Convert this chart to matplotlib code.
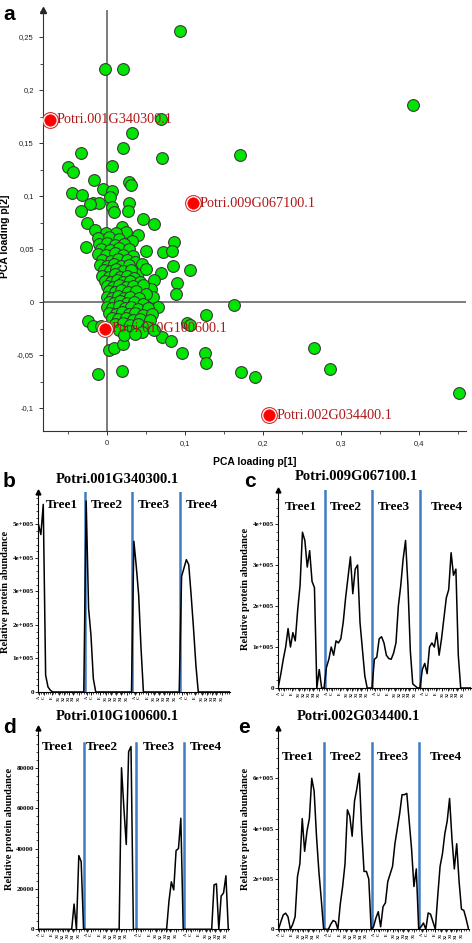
import matplotlib
matplotlib.use("Agg")
import matplotlib.pyplot as plt
from matplotlib.ticker import FixedLocator, FuncFormatter, MultipleLocator, AutoMinorLocator
import numpy as np

# ---------------- data: PCA loadings (panel a) ----------------
green_x = [0.094, -0.003, 0.020, 0.069, 0.032, 0.021, -0.033, 0.071, 0.171, 0.392,
           -0.050, -0.043, 0.006, -0.017, 0.028, 0.031, -0.005, 0.007, -0.045, -0.032, 0.004,
           -0.018, -0.010, -0.022, 0.028, 0.006, 0.009, 0.027, -0.033, 0.046, 0.060, -0.026,
           0.019, 0.024, 0.040, -0.015, -0.001, 0.012, 0.032, 0.086, -0.027, 0.050, 0.072,
           0.083, 0.085, 0.106, 0.069, 0.040, 0.060, 0.090, 0.088, 0.056, 0.059, 0.065,
           0.127, -0.024, -0.018, -0.008, 0.163, 0.103, 0.106, 0.071, 0.082, 0.096, 0.126,
           0.127, 0.265, 0.286, 0.172, 0.190, 0.451, 0.002, 0.009, 0.021, -0.012, 0.019,
           -0.012, 0.002, 0.015, -0.010, 0.000, 0.010, 0.022, -0.008, 0.004, 0.016, 0.028,
           -0.011, -0.001, 0.010, 0.020, 0.033, -0.006, 0.005, 0.014, 0.025, 0.036,
           -0.009, 0.000, 0.009, 0.018, 0.028, 0.045, -0.004, 0.004, 0.012, 0.021, 0.031, 0.050,
           -0.006, 0.002, 0.010, 0.017, 0.026, 0.035, -0.003, 0.005, 0.013, 0.020, 0.029, 0.042,
           0.000, 0.008, 0.016, 0.024, 0.033, 0.046, 0.002, 0.010, 0.018, 0.027, 0.037, 0.050,
           0.000, 0.006, 0.014, 0.022, 0.030, 0.041, 0.002, 0.009, 0.017, 0.025, 0.034, 0.046,
           0.000, 0.007, 0.015, 0.023, 0.031, 0.040, 0.052, 0.003, 0.011, 0.019, 0.028, 0.036,
           0.046, 0.058, 0.006, 0.014, 0.024, 0.033, 0.042, 0.055, 0.010, 0.020, 0.030, 0.040,
           0.051, 0.015, 0.028, 0.045, 0.060, 0.022, 0.036]
green_y = [0.256, 0.220, 0.220, 0.173, 0.159, 0.145, 0.141, 0.136, 0.139, 0.186,
           0.127, 0.123, 0.128, 0.115, 0.113, 0.110, 0.107, 0.105, 0.103, 0.101, 0.099,
           0.093, 0.093, 0.092, 0.093, 0.090, 0.085, 0.086, 0.086, 0.078, 0.074, 0.075,
           0.071, 0.066, 0.063, 0.068, 0.065, 0.065, 0.058, 0.057, 0.052, 0.048, 0.047,
           0.048, 0.034, 0.030, 0.027, 0.027, 0.021, 0.018, 0.008, 0.012, 0.005, -0.005,
           -0.012, -0.018, -0.023, -0.023, -0.003, -0.020, -0.022, -0.033, -0.037, -0.048, -0.048,
           -0.058, -0.043, -0.063, -0.066, -0.071, -0.086, -0.045, -0.043, -0.040, -0.068, -0.065,
           0.060, 0.061, 0.059, 0.055, 0.056, 0.054, 0.055, 0.050, 0.049, 0.051, 0.050,
           0.045, 0.044, 0.046, 0.044, 0.043, 0.040, 0.039, 0.041, 0.040, 0.038,
           0.035, 0.034, 0.036, 0.034, 0.035, 0.036, 0.030, 0.029, 0.031, 0.029, 0.030, 0.031,
           0.025, 0.024, 0.026, 0.024, 0.025, 0.023, 0.020, 0.019, 0.021, 0.019, 0.020, 0.019,
           0.015, 0.014, 0.016, 0.014, 0.015, 0.016, 0.010, 0.009, 0.011, 0.009, 0.010, 0.008,
           0.005, 0.004, 0.006, 0.004, 0.005, 0.004, 0.000, -0.001, 0.001, -0.001, 0.000, -0.002,
           -0.005, -0.006, -0.004, -0.006, -0.005, -0.007, -0.006, -0.010, -0.011, -0.009, -0.011, -0.010,
           -0.012, -0.011, -0.015, -0.016, -0.015, -0.017, -0.016, -0.017, -0.021, -0.020, -0.022, -0.021,
           -0.024, -0.026, -0.027, -0.028, -0.026, -0.031, -0.030]

red_names = ["Potri.001G340300.1", "Potri.009G067100.1", "Potri.010G100600.1", "Potri.002G034400.1"]
red_x = [-0.073, 0.110, -0.003, 0.208]
red_y = [0.172, 0.093, -0.025, -0.107]

# ---------------- data: protein abundance profiles (panels b-e) ----------------
tree_names = ["Tree1", "Tree2", "Tree3", "Tree4"]
sample_labels = ["A", "C", "E", "X1", "X2", "X3", "X4", "X5"]

b_vals = [5.0e5, 4.7e5, 5.6e5, 0.5e5, 0.15e5, 0.05e5] + [0] * 14 + \
         [5.7e5, 2.5e5, 1.7e5, 0.4e5] + [0] * 16 + \
         [4.5e5, 3.75e5, 2.9e5, 1.3e5] + [0] * 16 + \
         [3.45e5, 3.7e5, 3.95e5, 3.8e5, 2.9e5, 1.9e5, 0.8e5] + [0] * 14
c_vals = [0.05e5, 0.35e5, 0.7e5, 1.0e5, 1.45e5, 1.0e5, 1.35e5, 1.15e5, 1.9e5, 2.5e5,
          3.8e5, 3.6e5, 2.95e5, 3.35e5, 2.6e5, 2.45e5, 0.0, 0.45e5, 0.0, 0.0,
          0.5e5, 0.7e5, 1.0e5, 0.8e5, 1.15e5, 1.1e5, 1.2e5, 1.6e5, 2.2e5, 2.7e5,
          3.2e5, 2.3e5, 2.9e5, 3.0e5, 1.6e5, 0.95e5, 0.3e5, 0.0, 0.0, 0.0,
          0.7e5, 0.75e5, 1.2e5, 1.25e5, 1.1e5, 0.8e5, 0.72e5, 0.7e5, 0.85e5, 1.1e5,
          2.0e5, 2.5e5, 3.15e5, 3.6e5, 2.5e5, 0.9e5, 0.1e5, 0.05e5, 0.0, 0.0,
          0.45e5, 0.6e5, 0.35e5, 1.0e5, 1.1e5, 1.0e5, 1.35e5, 0.8e5, 1.2e5, 1.7e5,
          2.2e5, 2.4e5, 3.3e5, 2.75e5, 2.9e5, 0.8e5, 0.0, 0.0, 0.0, 0.0, 0.0]
d_vals = [0] * 15 + [12500, 0, 36500, 33500, 0] + \
         [0] * 15 + [80000, 60000, 42000, 88000, 90500, 0, 0] + \
         [0] * 13 + [14000, 23500, 19500, 39000, 40000, 55000, 0] + \
         [0] * 12 + [22000, 22500, 0, 16500, 18000, 26500, 0]
e_vals = [0.0, 0.3e5, 0.57e5, 0.64e5, 0.5e5, 0.0, 0.2e5, 0.5e5, 2.1e5, 2.6e5,
          4.4e5, 3.1e5, 3.9e5, 4.4e5, 6.0e5, 5.5e5, 3.7e5, 2.3e5, 1.2e5, 0.0,
          0.0, 0.0, 0.2e5, 0.35e5, 0.3e5, 0.0, 1.0e5, 1.7e5, 2.6e5, 4.75e5,
          4.5e5, 3.7e5, 5.1e5, 5.6e5, 6.2e5, 3.95e5, 2.3e5, 2.3e5, 2.0e5, 0.0,
          0.1e5, 0.45e5, 0.7e5, 0.1e5, 0.9e5, 1.05e5, 1.9e5, 2.2e5, 2.5e5, 3.4e5,
          4.0e5, 4.6e5, 5.35e5, 5.35e5, 5.4e5, 4.3e5, 3.2e5, 1.7e5, 2.4e5, 0.0,
          0.1e5, 0.25e5, 0.0, 0.65e5, 0.6e5, 0.3e5, 0.0, 1.3e5, 2.5e5, 3.0e5,
          3.8e5, 4.3e5, 5.2e5, 3.6e5, 2.4e5, 3.4e5, 1.9e5, 0.8e5, 0.75e5, 0.4e5, 0.0]

b_bounds = [19.4, 39.3, 59.4]
c_bounds = [19.2, 39.2, 59.2]
d_bounds = [19.2, 41.0, 61.2]
e_bounds = [19.2, 39.2, 59.2]

# ---------------- figure ----------------
W, H = 472, 943
fig = plt.figure(figsize=(W / 100, H / 100), dpi=100)
SANS = ["Liberation Sans", "DejaVu Sans"]
SERIF = ["Liberation Serif", "DejaVu Serif"]

def rect(l, t, r, b):
    return [l / W, 1 - b / H, (r - l) / W, (b - t) / H]

# ---- panel a ----
ax = fig.add_axes(rect(43, 10, 466, 431))
ax.set_xlim(-0.082, 0.46)
ax.set_ylim(-0.1217, 0.2755)
for s in ["top", "right"]:
    ax.spines[s].set_visible(False)
ax.spines["left"].set_color("#333333")
ax.spines["bottom"].set_color("#333333")
ax.axhline(0, color="#666666", lw=1.2, zorder=1)
ax.axvline(0, color="#666666", lw=1.2, zorder=1)
ax.xaxis.set_major_locator(MultipleLocator(0.1))
ax.xaxis.set_minor_locator(MultipleLocator(0.05))
ax.yaxis.set_major_locator(MultipleLocator(0.05))
ax.yaxis.set_minor_locator(MultipleLocator(0.025))
fmt = FuncFormatter(lambda v, p: ("%g" % round(v, 3)).replace(".", ","))
ax.xaxis.set_major_formatter(fmt)
ax.yaxis.set_major_formatter(fmt)
ax.tick_params(labelsize=5.5, length=3, width=0.7, colors="#333333", labelcolor="#222222")
ax.tick_params(which="minor", length=2, width=0.6, colors="#333333")
for t in ax.get_xticklabels() + ax.get_yticklabels():
    t.set_family(SANS)
ax.plot(0, 1, marker="^", color="#222222", markersize=4, transform=ax.transAxes, clip_on=False)
ax.scatter(green_x, green_y, s=72, c="#00e600", edgecolors="#3a3a3a", linewidths=0.8, zorder=3)
ax.scatter(red_x, red_y, s=130, c="white", edgecolors="#d03030", linewidths=0.8, zorder=4)
ax.scatter(red_x, red_y, s=70, c="#ff0000", edgecolors="#ff0000", linewidths=0.3, zorder=5)
for n, x, y in zip(red_names, red_x, red_y):
    ax.annotate(n, (x, y), xytext=(5, 0), textcoords="offset points", va="center", ha="left",
                fontsize=10.3, color="#b01818", family=SERIF, zorder=6)
ax.set_xlabel("PCA loading p[1]", fontsize=7.5, fontweight="bold", family=SANS)
ax.xaxis.set_label_coords(0.5, (431 - 457) / 421)
ax.set_ylabel("PCA loading p[2]", fontsize=7.5, fontweight="bold", family=SANS)
ax.yaxis.set_label_coords((10 - 43) / 423, (431 - 236) / 421)
fig.text(3 / W, 1 - 20 / H, "a", fontsize=15, fontweight="bold", family=SANS)

# ---- line panels ----
def line_panel(r, vals, bounds, ymax, btop, yt, ytl, title, letter, lpos, tpos, treex, treey):
    a = fig.add_axes(r)
    x = np.arange(len(vals))
    a.plot(x, vals, color="black", lw=1.1, zorder=3)
    for bnd in bounds:
        a.plot([bnd, bnd], [0, btop], color="#3f7cc4", lw=1.8, zorder=2)
    a.set_xlim(-0.2, 80.3)
    a.set_ylim(0, ymax)
    for s in ["top", "right"]:
        a.spines[s].set_visible(False)
    a.spines["left"].set_linewidth(0.8)
    a.spines["bottom"].set_linewidth(0.8)
    a.plot(0, 1, marker="^", color="black", markersize=3.5, transform=a.transAxes, clip_on=False)
    a.set_yticks(yt)
    a.set_yticklabels(ytl, fontsize=5, fontweight="bold", family=SERIF)
    a.yaxis.set_minor_locator(AutoMinorLocator(5))
    starts = [0] + [int(np.ceil(bb)) for bb in bounds]
    offs = [0.3, 2.2, 5.8, 8.4, 10.5, 12.6, 14.6, 17.0]
    xt, xl = [], []
    for st in starts:
        for o, lab in zip(offs, sample_labels):
            xt.append(st + o)
            xl.append(lab)
    a.set_xticks(xt)
    a.set_xticklabels(xl, rotation=90, fontsize=3.0, fontweight="bold", family=SERIF)
    a.xaxis.set_minor_locator(FixedLocator(np.arange(0, 81, 1)))
    a.tick_params(axis="both", length=2, width=0.6, pad=1)
    a.tick_params(which="minor", length=1.5, width=0.5)
    a.set_ylabel("Relative protein abundance", fontsize=7.5, fontweight="bold", family=SERIF, labelpad=2)
    for tx, nm in zip(treex, tree_names):
        a.text(tx, treey, nm, transform=a.get_xaxis_transform(), ha="center", va="center",
               fontsize=9.5, fontweight="bold", family=SERIF)
    fig.text(tpos[0] / W, 1 - tpos[1] / H, title, ha="center", va="center",
             fontsize=10.5, fontweight="bold", family=SERIF)
    fig.text(lpos[0] / W, 1 - lpos[1] / H, letter, ha="left", va="baseline",
             fontsize=15, fontweight="bold", family=SANS)
    return a

line_panel(rect(38, 492, 230, 692), b_vals, b_bounds, 5.97e5, 5.97e5,
           [0, 1e5, 2e5, 3e5, 4e5, 5e5], ["0", "1e+005", "2e+005", "3e+005", "4e+005", "5e+005"],
           "Potri.001G340300.1", "b", (3, 487), (117, 480), [10, 28.5, 48.5, 68.6], 0.935)
line_panel(rect(278, 490, 471, 688), c_vals, c_bounds, 4.83e5, 4.83e5,
           [0, 1e5, 2e5, 3e5, 4e5], ["0", "1e+005", "2e+005", "3e+005", "4e+005"],
           "Potri.009G067100.1", "c", (244, 487), (356, 477), [9.2, 28.3, 48.3, 70.4], 0.914)
line_panel(rect(38, 728, 229, 929.3), d_vals, d_bounds, 99700, 92200,
           [0, 20000, 40000, 60000, 80000], ["0", "20000", "40000", "60000", "80000"],
           "Potri.010G100600.1", "d", (3, 733), (117, 717), [8, 26.8, 50.6, 70.7], 0.905)
line_panel(rect(278, 728, 469.3, 929.3), e_vals, e_bounds, 8.0e5, 7.4e5,
           [0, 2e5, 4e5, 6e5], ["0", "2e+005", "4e+005", "6e+005"],
           "Potri.002G034400.1", "e", (238, 733), (358, 717), [8.3, 28.3, 48.3, 70.4], 0.855)

fig.savefig("out.png", dpi=100)
